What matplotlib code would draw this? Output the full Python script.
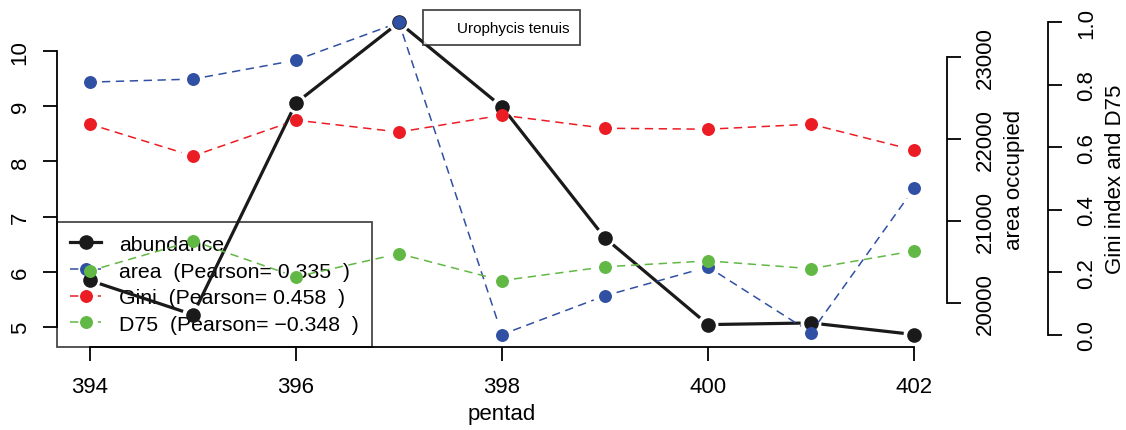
import numpy as np
import matplotlib
matplotlib.use("Agg")
import matplotlib.pyplot as plt
from matplotlib.lines import Line2D

plt.rcParams["font.family"] = ["Liberation Sans", "DejaVu Sans"]
plt.rcParams["lines.scale_dashes"] = False

# data
pentad = [394, 395, 396, 397, 398, 399, 400, 401, 402]
abundance = [5.84, 5.22, 9.06, 10.52, 8.99, 6.61, 5.04, 5.07, 4.86]
area = [22697, 22734, 22965, 23426, 19611, 20085, 20437, 19635, 21397]
gini = [0.674, 0.572, 0.687, 0.649, 0.703, 0.661, 0.658, 0.674, 0.591]
d75 = [0.204, 0.300, 0.185, 0.259, 0.173, 0.217, 0.236, 0.211, 0.268]

labels = ["abundance",
          "area  (Pearson= 0.335  )",
          "Gini  (Pearson= 0.458  )",
          "D75  (Pearson= \u22120.348  )"]

BLACK = "#1a1a1a"
BLUE = "#3050a3"
RED = "#ec1c24"
GREEN = "#62b845"
FS = 16
W, H = 1126, 431


def rlim(v):
    # R style 4% padding
    lo, hi = min(v), max(v)
    p = 0.04 * (hi - lo)
    return lo - p, hi + p


def type_b(axis, x, y, color, gap=12, **kw):
    # lines with gaps around the points, like R type="b"
    pts = axis.transData.transform(np.column_stack([x, y]))
    inv = axis.transData.inverted()
    for p0, p1 in zip(pts[:-1], pts[1:]):
        d = p1 - p0
        L = np.hypot(*d)
        if L <= 2 * gap:
            continue
        u = d / L
        a = inv.transform(p0 + u * gap)
        b = inv.transform(p1 - u * gap)
        axis.plot([a[0], b[0]], [a[1], b[1]], color=color, **kw)


fig = plt.figure(figsize=(W / 100, H / 100), dpi=100)
ax = fig.add_axes([57 / W, 83 / H, 890 / W, 337 / H])
ax2 = ax.twinx()
ax3 = ax.twinx()
for a in (ax, ax2, ax3):
    a.patch.set_visible(False)
    for s in a.spines.values():
        s.set_visible(False)
        s.set_linewidth(1.3)
    a.tick_params(direction="out", length=10, width=1.3, labelsize=FS)

ax.set_xlim(*rlim(pentad))
ax.set_ylim(*rlim(abundance))
ax2.set_ylim(*rlim(area))
ax3.set_ylim(-0.04, 1.04)

# left / bottom axes
ax.spines["left"].set_visible(True)
ax.spines["left"].set_bounds(5, 10)
ax.spines["bottom"].set_visible(True)
ax.spines["bottom"].set_bounds(394, 402)
ax.set_xticks([394, 396, 398, 400, 402])
ax.set_yticks([5, 6, 7, 8, 9, 10])
ax.tick_params(axis="x", pad=11)
ax.tick_params(axis="y", pad=9, labelrotation=90)
for t in ax.get_yticklabels():
    t.set_va("center")
ax.set_xlabel("pentad", fontsize=FS, labelpad=4)

# area axis
ax2.spines["right"].set_visible(True)
ax2.spines["right"].set_bounds(20000, 23000)
ax2.set_yticks([20000, 21000, 22000, 23000])
ax2.tick_params(axis="y", pad=10, labelrotation=90)
for t in ax2.get_yticklabels():
    t.set_va("center")
ax2.set_ylabel("area occupied", fontsize=FS, labelpad=6)

# gini axis
ax3.spines["right"].set_visible(True)
ax3.spines["right"].set_position(("outward", 101 * 0.72))
ax3.spines["right"].set_bounds(0, 1)
ax3.set_yticks([0, 0.2, 0.4, 0.6, 0.8, 1.0])
ax3.set_yticklabels(["0.0", "0.2", "0.4", "0.6", "0.8", "1.0"])
ax3.tick_params(axis="y", pad=10, labelrotation=90)
for t in ax3.get_yticklabels():
    t.set_va("center")
ax3.set_ylabel("Gini index and D75", fontsize=FS, labelpad=6)

# series
type_b(ax, pentad, abundance, BLACK, lw=2.3, zorder=3)
ax.plot(pentad, abundance, "o", color=BLACK, ms=9.5, zorder=3)

type_b(ax2, pentad, area, BLUE, lw=1.1, dashes=(6, 4))
ax2.plot(pentad, area, "o", color=BLUE, ms=8.3)

type_b(ax3, pentad, gini, RED, lw=1.1, dashes=(6, 4))
ax3.plot(pentad, gini, "o", color=RED, ms=8.3)
type_b(ax3, pentad, d75, GREEN, lw=1.1, dashes=(6, 4))
ax3.plot(pentad, d75, "o", color=GREEN, ms=8.3)

handles = [
    Line2D([], [], color=BLACK, lw=2.3, marker="o", ms=9.5),
    Line2D([], [], color=BLUE, lw=1.1, dashes=(6, 4), marker="o", ms=8.3),
    Line2D([], [], color=RED, lw=1.1, dashes=(6, 4), marker="o", ms=8.3),
    Line2D([], [], color=GREEN, lw=1.1, dashes=(6, 4), marker="o", ms=8.3),
]
leg = ax.legend(handles, labels, loc="lower left", bbox_to_anchor=(0, 0),
                borderaxespad=0, fontsize=15.3, frameon=True, fancybox=False,
                handlelength=1.45, handletextpad=0.85, labelspacing=0.36,
                borderpad=0.62)
leg.get_frame().set_facecolor("none")
leg.get_frame().set_edgecolor(BLACK)
leg.get_frame().set_linewidth(1.3)
leg.set_zorder(1)

# species box
sp = ax3.legend([Line2D([], [], linestyle="none")], ["Urophycis tenuis"],
                loc="upper left", bbox_to_anchor=(423 / W, 1 - 11 / H),
                bbox_transform=fig.transFigure, borderaxespad=0,
                fontsize=11, frameon=True, fancybox=False,
                handlelength=1.0, handletextpad=0.5, borderpad=0.7)
sp.get_frame().set_facecolor("white")
sp.get_frame().set_edgecolor(BLACK)
sp.get_frame().set_linewidth(1.3)
sp.set_zorder(10)

fig.savefig("out.png", dpi=100)
